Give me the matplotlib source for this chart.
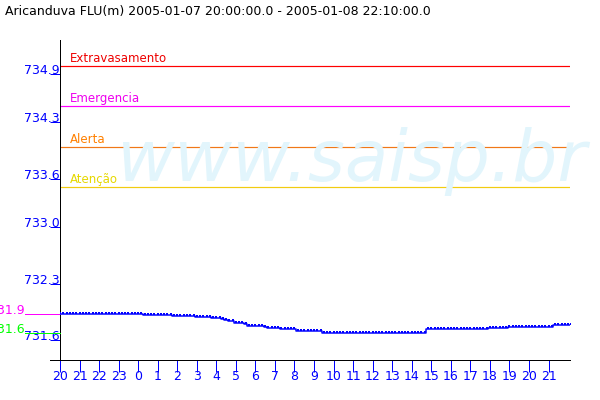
import numpy as np
import matplotlib
matplotlib.use("Agg")
import matplotlib.pyplot as plt
from matplotlib.transforms import offset_copy, blended_transform_factory

title = "Aricanduva FLU(m) 2005-01-07 20:00:00.0 - 2005-01-08 22:10:00.0"
watermark = "www.saisp.br"

# water level (m), one sample every 10 minutes starting 2005-01-07 20:00
level = [
    731.93, 731.93, 731.93, 731.93, 731.93, 731.93, 731.93, 731.93, 731.93, 731.93,
    731.93, 731.93, 731.93,
    731.92, 731.92, 731.92, 731.92, 731.92, 731.92, 731.92, 731.92, 731.92, 731.92,
    731.92, 731.92, 731.92,
    731.91, 731.91, 731.91, 731.91, 731.91, 731.91, 731.91, 731.91, 731.91,
    731.90, 731.90, 731.90, 731.90, 731.90, 731.90, 731.90,
    731.89, 731.89, 731.89, 731.89, 731.89,
    731.88, 731.88, 731.88,
    731.86, 731.85, 731.84, 731.84,
    731.82, 731.82, 731.82, 731.80,
    731.78, 731.78, 731.78, 731.78, 731.78,
    731.76, 731.75, 731.75, 731.75, 731.75,
    731.74, 731.74, 731.74, 731.74, 731.74,
    731.72, 731.72, 731.72, 731.72,
    731.71, 731.71, 731.71, 731.71,
    731.69, 731.69, 731.69, 731.69, 731.69, 731.69, 731.69, 731.69, 731.69, 731.69,
    731.69, 731.69, 731.69, 731.69, 731.69, 731.69, 731.69, 731.69, 731.69, 731.69,
    731.69, 731.69, 731.69, 731.69, 731.69, 731.69, 731.69, 731.69, 731.69, 731.69,
    731.69, 731.69,
    731.74, 731.74, 731.74, 731.74, 731.74, 731.74, 731.74, 731.74, 731.74, 731.74,
    731.74, 731.74, 731.74, 731.74, 731.74, 731.74, 731.74, 731.74, 731.74,
    731.75, 731.75, 731.75, 731.75, 731.75, 731.75,
    731.76, 731.76, 731.76, 731.76, 731.76, 731.76,
    731.77, 731.77, 731.77, 731.77, 731.77, 731.77, 731.77, 731.77,
    731.79, 731.79, 731.79, 731.79, 731.79, 731.79,
]
sample_minutes = 10

threshold_names = ["Extravasamento", "Emergencia", "Alerta", "Atenção"]
threshold_values = [735.0, 734.5, 734.0, 733.5]
threshold_colors = ["#ff0000", "#ff00ff", "#f07818", "#f2cc10"]
threshold_text_colors = ["#ee0000", "#ee00ee", "#ff8000", "#e6d800"]

ytick_values = [731.6, 732.3, 733.0, 733.6, 734.3, 734.9]
ytick_labels = ["731.6", "732.3", "733.0", "733.6", "734.3", "734.9"]
xtick_hours = list(range(26))
xtick_labels = ["20", "21", "22", "23", "0", "1", "2", "3", "4", "5", "6", "7", "8",
                "9", "10", "11", "12", "13", "14", "15", "16", "17", "18", "19",
                "20", "21"]

BLUE = "#0000ff"
PX = 0.72  # points per pixel at dpi 100

plt.rcParams["font.family"] = ["DejaVu Sans"]
fig = plt.figure(figsize=(6, 4), dpi=100)
ax = fig.add_axes([0.1, 0.1, 0.85, 0.8])

hours = np.arange(len(level)) * sample_minutes / 60.0
lv = np.array(level)

# watermark
fig.text(117 / 600, 1 - 181 / 400, watermark, fontsize=51, style="italic",
         color="#e2f5fc", ha="left", va="baseline", zorder=0)
ax.patch.set_alpha(0)

# thresholds
blend = blended_transform_factory(ax.transAxes, ax.transData)
text_tr = offset_copy(blend, fig=fig, x=0, y=4, units="dots")
for name, val, c, tc in zip(threshold_names, threshold_values, threshold_colors,
                            threshold_text_colors):
    ax.axhline(val, color=c, lw=1.2 * PX, zorder=2)
    ax.text(10 / 510, val, name, transform=text_tr, color=tc, fontsize=8.5,
            ha="left", va="baseline", zorder=3)

# data
ax.plot(hours, lv, color=BLUE, lw=1.5 * PX, drawstyle="steps-mid", zorder=4)
mk_tr = offset_copy(ax.transData, fig=fig, x=0, y=1, units="dots")
ax.plot(hours, lv, ls="none", marker="s", ms=2 * PX, mew=0, color=BLUE,
        transform=mk_tr, zorder=4)

# max / min markers at left
vmax, vmin = lv.max(), lv.min()
lab_tr = offset_copy(blend, fig=fig, x=0, y=0, units="dots")
for v, c in ((vmax, "#ff00ff"), (vmin, "#00ff00")):
    ax.plot([-35 / 510, 0], [v, v], color=c, lw=1 * PX, transform=blend,
            clip_on=False, zorder=3)
    ax.text(-35 / 510, v, f"{np.floor(v * 10) / 10:.1f}", transform=lab_tr,
            color=c, fontsize=9, ha="right", va="baseline", clip_on=False)

ax.set_xlim(0, 26.1)
ax.set_ylim(731.356, 735.322)

for s in ("top", "right", "bottom"):
    ax.spines[s].set_visible(False)
ax.spines["left"].set_color("black")
ax.spines["left"].set_linewidth(1 * PX)
ax.plot([-10 / 510, 1], [0, 0], transform=ax.transAxes, color="black",
        lw=1 * PX, clip_on=False, zorder=5)

ax.set_yticks(ytick_values)
ax.set_yticklabels(ytick_labels)
ax.tick_params(axis="y", colors=BLUE, length=10 * PX, width=1 * PX,
               pad=-10 * PX, labelsize=9)
for t in ax.get_yticklabels():
    t.set_va("baseline")

ax.set_xticks(xtick_hours)
ax.set_xticklabels(xtick_labels)
ax.tick_params(axis="x", colors=BLUE, length=12 * PX, width=1 * PX,
               pad=-2 * PX, labelsize=9)

fig.text(5 / 600, 1 - 15 / 400, title, fontsize=9, ha="left", va="baseline",
         color="black")

fig.savefig("out.png", dpi=100)
